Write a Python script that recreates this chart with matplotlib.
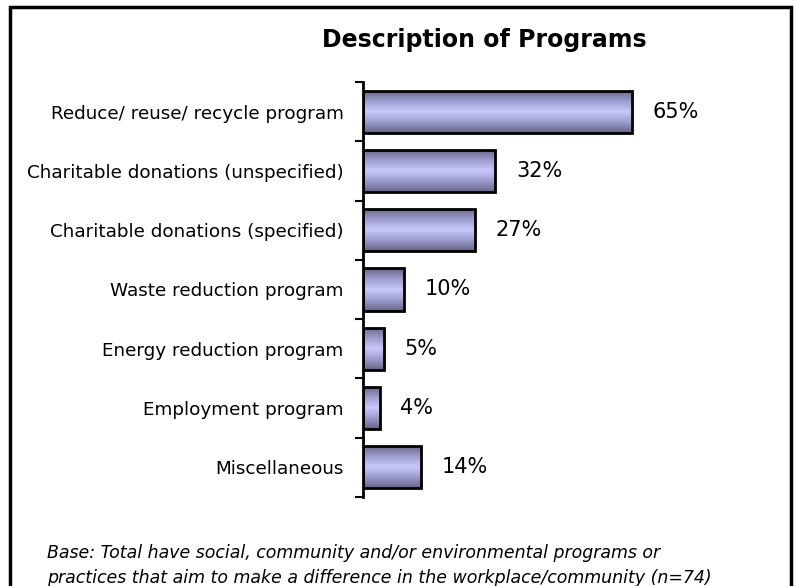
import numpy as np
import matplotlib
matplotlib.use("Agg")
import matplotlib.pyplot as plt
from matplotlib.colors import LinearSegmentedColormap
from matplotlib.patches import Rectangle

categories = [
    "Reduce/ reuse/ recycle program",
    "Charitable donations (unspecified)",
    "Charitable donations (specified)",
    "Waste reduction program",
    "Energy reduction program",
    "Employment program",
    "Miscellaneous",
]
values = [65, 32, 27, 10, 5, 4, 14]
title = "Description of Programs"
footnote = ("Base: Total have social, community and/or environmental programs or\n"
            "practices that aim to make a difference in the workplace/community (n=74)")

fig = plt.figure(figsize=(7.95, 5.86), dpi=100)
ax = fig.add_axes([0.4566, 0.152, 0.52, 0.708])

y = np.arange(len(categories))
bars = ax.barh(y, values, height=0.71, color="none", edgecolor="black", linewidth=2, zorder=3)

# vertical gradient: dark at top/bottom edges, light in the middle
cmap = LinearSegmentedColormap.from_list("bar", ["#666688", "#9c9cce", "#c8c8fc", "#9c9cce", "#666688"])
grad = np.linspace(0, 1, 64).reshape(-1, 1)
for b in bars:
    x0, y0 = b.get_x(), b.get_y()
    im = ax.imshow(grad, cmap=cmap, aspect="auto", interpolation="bilinear",
                   extent=(x0, x0 + b.get_width(), y0 + b.get_height(), y0), zorder=2)
    im.set_clip_path(b)

for v, yy in zip(values, y):
    ax.text(v + 5, yy, f"{v}%", va="center", ha="left", fontsize=15)

ax.set_xlim(0, 100)
ax.set_ylim(len(categories) - 0.5, -0.5)
ax.set_yticks(y)
ax.set_yticklabels(categories, fontsize=13.2)
ax.tick_params(axis="y", which="major", length=0, pad=14)
ax.set_yticks(np.arange(-0.5, len(categories)), minor=True)
ax.tick_params(axis="y", which="minor", length=6, width=1.5, direction="out")
ax.set_xticks([])
for s in ["top", "right", "bottom"]:
    ax.spines[s].set_visible(False)
ax.spines["left"].set_linewidth(2)

fig.text(0.609, 0.932, title, ha="center", va="center", fontsize=17, fontweight="bold")
fig.text(0.059, 0.035, footnote, ha="left", va="center", fontsize=12.5, style="italic", linespacing=1.45)

fig.patches.append(Rectangle((0.013, -0.05), 0.982, 1.038, transform=fig.transFigure,
                             fill=False, edgecolor="black", linewidth=2.5))

fig.savefig("out.png", dpi=100)
